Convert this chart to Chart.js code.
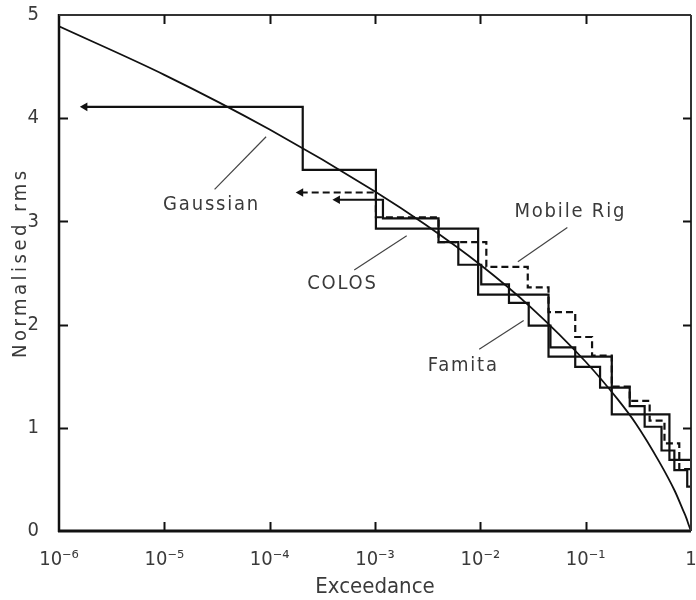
<!DOCTYPE html>
<html>
<head>
<meta charset="utf-8">
<script src="https://cdn.jsdelivr.net/npm/chart.js@4/dist/chart.umd.min.js"></script>
<style>
html,body{margin:0;padding:0;background:#fff;}
#wrap{width:696px;height:600px;position:relative;}
</style>
</head>
<body>
<div id="wrap"><canvas id="c" width="696" height="600"></canvas></div>
<script>
// ---- data ----
const xTickValues = [1e-6, 1e-5, 1e-4, 1e-3, 1e-2, 1e-1, 1];
const xTickLabels = ['10\u207B\u2076', '10\u207B\u2075', '10\u207B\u2074', '10\u207B\u00B3', '10\u207B\u00B2', '10\u207B\u00B9', '1'];
const yTickValues = [0, 1, 2, 3, 4, 5];
const yTickLabels = ['0', '1', '2', '3', '4', '5'];

const gaussX = [1e-6, 1e-5, 1e-4, 1e-3, 3e-3, 1e-2, 3e-2, 0.1, 0.2, 0.3, 0.5, 0.7, 0.85, 0.9, 0.95, 1];
const gaussY = [4.89, 4.42, 3.89, 3.29, 2.97, 2.58, 2.17, 1.64, 1.28, 1.04, 0.67, 0.39, 0.19, 0.13, 0.06, 0];

const colosX = [1.76e-6, 2.06e-4, 1.02e-3, 9.53e-3, 4.44e-2, 0.177, 0.624, 1];
const colosY = [4.11, 3.50, 2.93, 2.29, 1.69, 1.13, 0.69, 0.69];

const famitaX = [4.40e-4, 1.19e-3, 4.01e-3, 6.18e-3, 1.02e-2, 1.87e-2, 2.88e-2, 4.63e-2, 7.96e-2, 0.137, 0.262, 0.363, 0.525, 0.695, 0.921, 1];
const famitaY = [3.21, 3.03, 2.80, 2.58, 2.39, 2.21, 1.99, 1.78, 1.59, 1.39, 1.21, 1.01, 0.78, 0.59, 0.43, 0.43];

const mobileX = [1.97e-4, 1.02e-3, 4.01e-3, 1.14e-2, 2.82e-2, 4.44e-2, 7.96e-2, 0.115, 0.177, 0.262, 0.405, 0.560, 0.774, 1];
const mobileY = [3.28, 3.04, 2.80, 2.56, 2.36, 2.12, 1.88, 1.70, 1.40, 1.26, 1.07, 0.85, 0.60, 0.60];

// text labels with leader lines (anchored in data coordinates)
const labelTexts = ['Gaussian', 'COLOS', 'Mobile Rig', 'Famita'];
const labelAt = [[2.81e-5, 3.165], [4.91e-4, 2.40], [0.0715, 3.09], [6.89e-3, 1.60]];
const leaderFrom = [[3.0e-5, 3.31], [6.35e-4, 2.53], [0.0227, 2.61], [9.75e-3, 1.76]];
const leaderTo = [[9.25e-5, 3.82], [2.0e-3, 2.86], [0.0670, 2.94], [0.0258, 2.04]];
const yTitle = 'Normalised rms';

// ---- build ----
const pts = (xs, ys) => xs.map((x, i) => ({x: x, y: ys[i]}));
const FONT = '"DejaVu Sans Condensed", "Liberation Sans Narrow", "DejaVu Sans", sans-serif';
const INK = '#111';
const TXT = '#3a3a3a';

const arrowRadius = ctx => ctx.dataIndex === 0 ? 5 : 0;

const stepSet = (data, dashed) => ({
  data: data,
  stepped: 'before',
  borderColor: INK,
  backgroundColor: INK,
  borderWidth: 2.2,
  borderDash: dashed ? [7, 4] : [],
  pointStyle: 'triangle',
  pointRotation: -90,
  pointRadius: arrowRadius,
  pointHoverRadius: 0,
  pointBorderWidth: 0,
  pointBackgroundColor: INK,
  fill: false
});

const framePlugin = {
  id: 'frame',
  afterDatasetsDraw(chart) {
    const {ctx, chartArea: {left, right, top, bottom}, scales: {x, y}} = chart;
    ctx.save();
    ctx.strokeStyle = INK;
    ctx.lineCap = 'butt';
    ctx.lineWidth = 2.5;
    ctx.beginPath(); ctx.moveTo(left, top - 1); ctx.lineTo(left, bottom + 1); ctx.stroke();
    ctx.lineWidth = 3;
    ctx.beginPath(); ctx.moveTo(left - 1, bottom); ctx.lineTo(right, bottom); ctx.stroke();
    ctx.lineWidth = 2;
    ctx.strokeStyle = '#333';
    ctx.beginPath(); ctx.moveTo(left, top); ctx.lineTo(right, top); ctx.stroke();
    ctx.beginPath(); ctx.moveTo(right, top); ctx.lineTo(right, bottom); ctx.stroke();
    ctx.strokeStyle = INK;
    ctx.lineWidth = 2;
    xTickValues.forEach((v, i) => {
      if (i === 0 || i === xTickValues.length - 1) return;
      const px = Math.round(x.getPixelForValue(v)) + 0.5;
      ctx.beginPath(); ctx.moveTo(px, bottom); ctx.lineTo(px, bottom - 9); ctx.stroke();
      ctx.beginPath(); ctx.moveTo(px, top); ctx.lineTo(px, top + 9); ctx.stroke();
    });
    yTickValues.forEach((v, i) => {
      if (i === 0 || i === yTickValues.length - 1) return;
      const py = Math.round(y.getPixelForValue(v)) + 0.5;
      ctx.beginPath(); ctx.moveTo(left, py); ctx.lineTo(left + 9, py); ctx.stroke();
      ctx.beginPath(); ctx.moveTo(right, py); ctx.lineTo(right - 8, py); ctx.stroke();
    });
    // labels and leader lines
    ctx.fillStyle = TXT;
    ctx.strokeStyle = '#444';
    ctx.lineWidth = 1.2;
    ctx.font = '20px ' + FONT;
    ctx.textAlign = 'center';
    ctx.textBaseline = 'middle';
    try { ctx.letterSpacing = '1.8px'; } catch (e) {}
    labelTexts.forEach((t, i) => {
      const a = leaderFrom[i], b = leaderTo[i], p = labelAt[i];
      ctx.beginPath();
      ctx.moveTo(x.getPixelForValue(a[0]), y.getPixelForValue(a[1]));
      ctx.lineTo(x.getPixelForValue(b[0]), y.getPixelForValue(b[1]));
      ctx.stroke();
      ctx.fillText(t, x.getPixelForValue(p[0]), y.getPixelForValue(p[1]));
    });
    // y axis title
    ctx.save();
    ctx.font = '20px ' + FONT;
    try { ctx.letterSpacing = '3.5px'; } catch (e) {}
    ctx.translate(21, y.getPixelForValue(2.6));
    ctx.rotate(-Math.PI / 2);
    ctx.fillText(yTitle, 0, 0);
    ctx.restore();
    ctx.restore();
  }
};

new Chart(document.getElementById('c'), {
  type: 'line',
  data: {
    datasets: [
      {
        data: pts(gaussX, gaussY),
        borderColor: INK,
        borderWidth: 1.8,
        pointRadius: 0,
        pointHoverRadius: 0,
        cubicInterpolationMode: 'monotone',
        fill: false
      },
      stepSet(pts(colosX, colosY), false),
      stepSet(pts(famitaX, famitaY), false),
      stepSet(pts(mobileX, mobileY), true)
    ]
  },
  options: {
    responsive: false,
    animation: false,
    events: [],
    layout: {padding: {top: 15, right: 0, left: 0, bottom: 0}},
    plugins: {legend: {display: false}, tooltip: {enabled: false}},
    scales: {
      x: {
        type: 'logarithmic',
        min: 1e-6,
        max: 1,
        grid: {display: false},
        border: {display: false},
        afterBuildTicks: s => { s.ticks = xTickValues.map(v => ({value: v})); },
        afterFit: s => { s.height = 69; s.paddingLeft = 0; s.paddingRight = 0; },
        ticks: {
          autoSkip: false, maxRotation: 0, minRotation: 0,
          padding: 9,
          color: TXT,
          font: {family: FONT, size: 20},
          callback: (v, i) => xTickLabels[i]
        },
        title: {
          display: true, text: 'Exceedance', color: TXT,
          font: {family: FONT, size: 22},
          padding: {top: 3, bottom: 0}
        }
      },
      y: {
        min: 0,
        max: 5,
        grid: {display: false},
        border: {display: false},
        afterBuildTicks: s => { s.ticks = yTickValues.map(v => ({value: v})); },
        afterFit: s => { s.width = 59; s.paddingTop = 0; s.paddingBottom = 0; },
        ticks: {
          padding: 12,
          color: TXT,
          font: {family: FONT, size: 20},
          callback: (v, i) => yTickLabels[i]
        },
        title: {display: false}
      }
    }
  },
  plugins: [framePlugin]
});
</script>
</body>
</html>
